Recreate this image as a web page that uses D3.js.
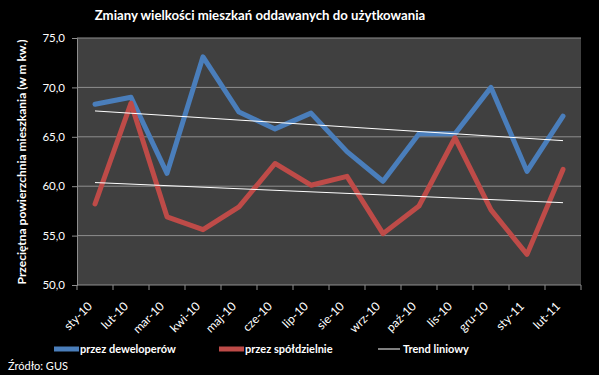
<!DOCTYPE html>
<html>
<head>
<meta charset="utf-8">
<script src="https://cdn.jsdelivr.net/npm/d3@7"></script>
<style>
  body { margin: 0; background: #000; }
  svg { display: block; font-family: Lato, "Open Sans", sans-serif; }
</style>
</head>
<body>
<svg id="chart" width="599" height="375"></svg>
<script>
// data
var months = ["sty-10","lut-10","mar-10","kwi-10","maj-10","cze-10","lip-10","sie-10","wrz-10","paź-10","lis-10","gru-10","sty-11","lut-11"];
var deweloperzy = [68.3, 69.0, 61.3, 73.1, 67.5, 65.8, 67.4, 63.5, 60.5, 65.3, 65.3, 70.0, 61.5, 67.1];
var spoldzielnie = [58.2, 68.4, 56.9, 55.6, 57.9, 62.3, 60.1, 61.0, 55.2, 58.0, 64.9, 57.6, 53.1, 61.7];
var yTicks = [50, 55, 60, 65, 70, 75];

var margin = {top: 38, right: 18, bottom: 90, left: 77},
    width = 599 - margin.left - margin.right,
    height = 375 - margin.top - margin.bottom;

var svg = d3.select("#chart");
var g = svg.append("g").attr("transform", "translate(" + margin.left + "," + margin.top + ")");

var x = d3.scaleBand().domain(months).range([0, width]);
var y = d3.scaleLinear().domain([50, 75]).range([height, 0]);

//plot background
g.append("rect").attr("width", width).attr("height", height).attr("fill", "#404040");

//gridlines
g.selectAll(".grid").data(yTicks.slice(1)).enter().append("line")
  .attr("x1", 0).attr("x2", width)
  .attr("y1", function(d){ return y(d); }).attr("y2", function(d){ return y(d); })
  .attr("stroke", "#8e8e8e").attr("stroke-width", 1);

//y axis
var yAxis = g.append("g")
  .call(d3.axisLeft(y).tickValues(yTicks).tickSize(5).tickPadding(7)
    .tickFormat(function(d){ return d3.format(".1f")(d).replace(".", ","); }));
yAxis.select(".domain").attr("stroke", "#8e8e8e");
yAxis.selectAll(".tick line").attr("stroke", "#8e8e8e");
yAxis.selectAll("text").attr("fill", "#fff").style("font-size", "11.5px").style("font-family", "Lato");

//x axis, ticks on category borders
var xAxis = g.append("g").attr("transform", "translate(0," + height + ")");
xAxis.append("line").attr("x1", 0).attr("x2", width).attr("stroke", "#8e8e8e");
xAxis.selectAll(".xt").data(d3.range(months.length + 1)).enter().append("line")
  .attr("x1", function(i){ return i * x.step(); }).attr("x2", function(i){ return i * x.step(); })
  .attr("y1", 0).attr("y2", 5).attr("stroke", "#8e8e8e");
xAxis.selectAll(".xl").data(months).enter().append("text")
  .attr("transform", function(d){ return "translate(" + (x(d) + x.bandwidth() / 2 - 2) + ",22) rotate(-45)"; })
  .attr("text-anchor", "end")
  .attr("fill", "#fff")
  .style("font-size", "12px")
  .text(function(d){ return d; });

//linear trend
function trend(vals){
  var n = vals.length, xs = d3.range(n),
      mx = d3.mean(xs), my = d3.mean(vals),
      b = d3.sum(xs, function(i){ return (i - mx) * (vals[i] - my); }) / d3.sum(xs, function(i){ return (i - mx) * (i - mx); }),
      a = my - b * mx;
  return [[0, a], [n - 1, a + b * (n - 1)]];
}

var line = d3.line()
  .x(function(d, i){ return x(months[i]) + x.bandwidth() / 2; })
  .y(function(d){ return y(d); });

var trendLine = d3.line()
  .x(function(d){ return x(months[d[0]]) + x.bandwidth() / 2; })
  .y(function(d){ return y(d[1]); });

g.append("path").datum(deweloperzy).attr("d", line)
  .attr("fill", "none").attr("stroke", "#4a7ebb").attr("stroke-width", 5).attr("stroke-linejoin", "round").attr("stroke-linecap", "round");
g.append("path").datum(spoldzielnie).attr("d", line)
  .attr("fill", "none").attr("stroke", "#be4b48").attr("stroke-width", 5).attr("stroke-linejoin", "round").attr("stroke-linecap", "round");

[deweloperzy, spoldzielnie].forEach(function(s){
  g.append("path").datum(trend(s)).attr("d", trendLine)
    .attr("fill", "none").attr("stroke", "#fff").attr("stroke-width", 1);
});

//title
svg.append("text")
  .attr("x", 260).attr("y", 20)
  .attr("text-anchor", "middle")
  .attr("fill", "#fff")
  .style("font-size", "13.2px").style("font-weight", "bold")
  .text("Zmiany wielkości mieszkań oddawanych do użytkowania");

//y label
svg.append("text")
  .attr("transform", "translate(26,162) rotate(-90)")
  .attr("text-anchor", "middle")
  .attr("fill", "#fff")
  .style("font-size", "12px").style("font-weight", "bold")
  .text("Przeciętna powierzchnia mieszkania  (w m kw.)");

//legend
var legend = [
  {label: "przez deweloperów", color: "#4a7ebb", w: 5, x: 54},
  {label: "przez spółdzielnie", color: "#be4b48", w: 5, x: 219},
  {label: "Trend liniowy", color: "#fff", w: 1, x: 378}
];
var lg = svg.selectAll(".legend").data(legend).enter().append("g")
  .attr("transform", function(d){ return "translate(" + d.x + ",349)"; });
lg.append("line").attr("x1", 0).attr("x2", function(d){ return d.w > 1 ? 25 : 22; })
  .attr("stroke", function(d){ return d.color; }).attr("stroke-width", function(d){ return d.w; });
lg.append("text").attr("x", function(d){ return d.w > 1 ? 26 : 25; }).attr("y", 4)
  .attr("fill", "#fff").style("font-size", "11px").style("font-weight", "bold")
  .text(function(d){ return d.label; });

//source
svg.append("text").attr("x", 8).attr("y", 370).attr("fill", "#fff")
  .style("font-size", "11px").text("Źródło: GUS");
</script>
</body>
</html>
